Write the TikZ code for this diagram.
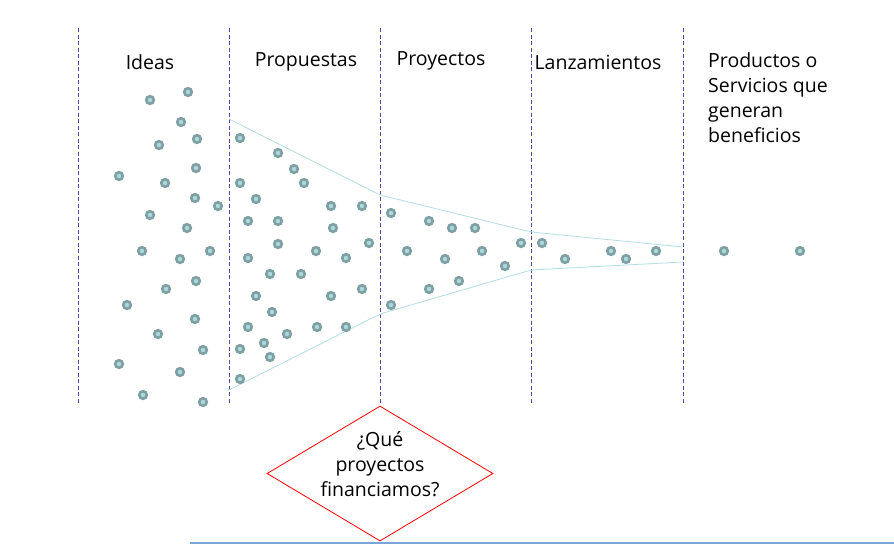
\documentclass[tikz,border=0pt]{standalone}
\usepackage{fontspec}
\setmainfont{Open Sans}
\usetikzlibrary{shapes.geometric}

\definecolor{ring}{RGB}{127,160,163}
\definecolor{core}{RGB}{172,216,221}
\definecolor{funnel}{RGB}{178,222,226}
\definecolor{divider}{RGB}{80,72,176}
\definecolor{rulecol}{RGB}{122,166,216}

\tikzstyle{idea}=[circle,draw=ring,fill=core,line width=2.6pt,minimum size=7.6pt,inner sep=0pt]
\tikzstyle{stage}=[font=\fontsize{19.5}{25}\selectfont,inner sep=0pt]
\tikzstyle{stagesep}=[draw=divider,dash pattern=on 4pt off 2.5pt,line width=1pt]
\tikzstyle{question}=[diamond,draw=red,line width=0.8pt,minimum width=226pt,minimum height=135pt,inner sep=0pt]

\begin{document}
\begin{tikzpicture}[x=1pt,y=-1pt]
    \useasboundingbox[fill=white] (0,0) rectangle (894,544);
    %Stage separators
    \foreach \xx/\name in {78/s1, 229/s2, 380/s3, 531/s4, 683/s5}{
      \coordinate (\name top) at (\xx,28);
      \coordinate (\name bot) at (\xx,403);
      \draw[stagesep] (\name top) -- (\name bot);
    }
    %Stage titles
    \node[stage] (ideas) at (150,62) {Ideas};
    \node[stage] (propuestas) at (306,62) {Propuestas};
    \node[stage] (proyectos) at (441,61) {Proyectos};
    \node[stage] (lanzamientos) at (598,62) {Lanzamientos};
    \node[stage,align=left,anchor=north west] (productos) at (708,52)
      {Productos o\\Servicios que\\generan\\beneficios};
    %Funnel
    \draw[funnel,line width=0.8pt,rounded corners=6pt]
      (229,119) -- (380,195) -- (531,232) -- (683,247);
    \draw[funnel,line width=0.8pt,rounded corners=6pt]
      (229,390) -- (380,314) -- (531,270) -- (683,262);
    %Ideas
    \foreach \pos/\name in {{(188,92)/i1}, {(150,100)/i2}, {(181,122)/i3},
                            {(197,139)/i4}, {(159,145)/i5}, {(196,168)/i6},
                            {(119,176)/i7}, {(165,183)/i8}, {(195,198)/i9},
                            {(218,206)/i10}, {(150,215)/i11}, {(187,228)/i12},
                            {(142,251)/i13}, {(180,259)/i14}, {(210,251)/i15},
                            {(196,281)/i16}, {(166,289)/i17}, {(127,305)/i18},
                            {(195,319)/i19}, {(158,334)/i20}, {(203,350)/i21},
                            {(119,364)/i22}, {(180,372)/i23}, {(143,395)/i24},
                            {(203,402)/i25}}
    \node[idea] (\name) at \pos {};
    %Propuestas
    \foreach \pos/\name in {{(240,138)/p1}, {(278,153)/p2}, {(294,169)/p3},
                            {(240,183)/p4}, {(304,183)/p5}, {(256,199)/p6},
                            {(331,206)/p7}, {(362,206)/p8}, {(248,221)/p9},
                            {(278,221)/p10}, {(333,228)/p11}, {(278,244)/p12},
                            {(369,243)/p13}, {(316,251)/p14}, {(248,258)/p15},
                            {(346,258)/p16}, {(270,274)/p17}, {(301,274)/p18},
                            {(256,296)/p19}, {(331,296)/p20}, {(362,289)/p21},
                            {(272,312)/p22}, {(248,327)/p23}, {(317,327)/p24},
                            {(346,327)/p25}, {(287,334)/p26}, {(264,343)/p27},
                            {(240,349)/p28}, {(270,357)/p29}, {(240,379)/p30}}
    \node[idea] (\name) at \pos {};
    %Proyectos
    \foreach \pos/\name in {{(391,213)/r1}, {(429,221)/r2}, {(452,228)/r3},
                            {(475,228)/r4}, {(407,251)/r5}, {(445,259)/r6},
                            {(482,251)/r7}, {(521,243)/r8}, {(505,266)/r9},
                            {(459,281)/r10}, {(429,289)/r11}, {(391,305)/r12}}
    \node[idea] (\name) at \pos {};
    %Lanzamientos
    \foreach \pos/\name in {{(542,243)/l1}, {(565,259)/l2}, {(611,251)/l3},
                            {(626,259)/l4}, {(656,251)/l5}}
    \node[idea] (\name) at \pos {};
    %Productos
    \node[idea] (b1) at (724,251) {};
    \node[idea] (b2) at (800,251) {};
    %Decision
    \node[question] (pregunta) at (380,473.5) {};
    \node[stage,align=center] (preguntatxt) at ([yshift=9pt]pregunta.center)
      {¿Qué\\proyectos\\financiamos?};
    \draw[rulecol,line width=2pt] (190,543) -- (894,543);
\end{tikzpicture}
\end{document}
